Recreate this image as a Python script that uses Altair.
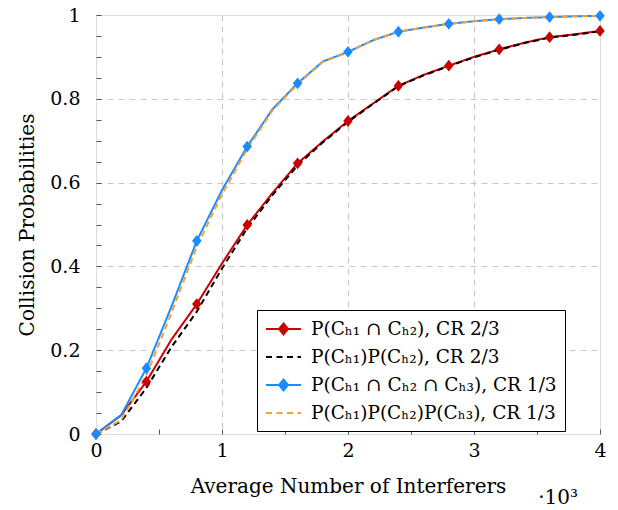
import altair as alt
import pandas as pd

# ---------------- data ----------------
x_k = [0.0, 0.2, 0.4, 0.6, 0.8, 1.0, 1.2, 1.4, 1.6, 1.8, 2.0,
       2.2, 2.4, 2.6, 2.8, 3.0, 3.2, 3.4, 3.6, 3.8, 4.0]
p12_joint = [0.0, 0.045, 0.125, 0.226, 0.310, 0.407, 0.499, 0.575, 0.646, 0.698, 0.747,
             0.789, 0.831, 0.857, 0.879, 0.900, 0.918, 0.934, 0.947, 0.954, 0.962]
p12_prod = [0.0, 0.030, 0.110, 0.208, 0.292, 0.395, 0.491, 0.570, 0.641, 0.696, 0.745,
            0.788, 0.830, 0.856, 0.878, 0.899, 0.917, 0.933, 0.946, 0.953, 0.961]
p123_joint = [0.0, 0.045, 0.157, 0.305, 0.461, 0.582, 0.686, 0.775, 0.837, 0.889, 0.912,
              0.940, 0.960, 0.970, 0.979, 0.985, 0.990, 0.993, 0.995, 0.997, 0.998]
p123_prod = [0.0, 0.033, 0.140, 0.290, 0.447, 0.572, 0.680, 0.772, 0.835, 0.888, 0.911,
             0.940, 0.960, 0.970, 0.979, 0.985, 0.990, 0.993, 0.995, 0.997, 0.998]

series_names = [
    "P(Cₕ₁ ∩ Cₕ₂), CR 2/3",
    "P(Cₕ₁)P(Cₕ₂), CR 2/3",
    "P(Cₕ₁ ∩ Cₕ₂ ∩ Cₕ₃), CR 1/3",
    "P(Cₕ₁)P(Cₕ₂)P(Cₕ₃), CR 1/3",
]
series_values = [p12_joint, p12_prod, p123_joint, p123_prod]
series_colors = ["#cc0000", "#000000", "#1a8cff", "#f5a033"]
series_dash = [[1, 0], [6, 4], [1, 0], [6, 4]]
series_has_marker = [True, False, True, False]

x_tick_vals = [i * 0.5 for i in range(9)]
y_tick_vals = [round(i * 0.05, 2) for i in range(21)]

rows = []
for name, vals, mk in zip(series_names, series_values, series_has_marker):
    for i, (xv, yv) in enumerate(zip(x_k, vals)):
        rows.append({"series": name, "x": xv, "y": yv,
                     "marker": bool(mk and i % 2 == 0)})
df = pd.DataFrame(rows)

FONT = "DejaVu Serif"

diamond = "M0,-1L0.8,0L0,1L-0.8,0Z"
leg_solid_diamond = "M-1,0L2.5,0M0.75,-0.55L1.2,0L0.75,0.55L0.3,0Z"
leg_dashed = "M-1,0L-0.4,0M0.05,0L0.65,0M1.1,0L1.7,0M2.15,0L2.5,0"
legend_shapes = [leg_solid_diamond, leg_dashed, leg_solid_diamond, leg_dashed]

x_enc = alt.X(
    "x:Q",
    scale=alt.Scale(domain=[0, 4], nice=False, zero=False),
    axis=alt.Axis(
        values=x_tick_vals,
        labelExpr="datum.value % 1 == 0 ? format(datum.value, 'd') : ''",
        labelFlush=False, labelOverlap=False,
        title="Average Number of Interferers",
        grid=True,
        gridOpacity={"condition": {"test": "datum.value % 1 == 0 && datum.value > 0 && datum.value < 4",
                                   "value": 1}, "value": 0},
        gridDash=[6, 5], gridColor="#c8c8c8", gridWidth=1.2,
        tickSize=5, offset=-5, domain=False, tickColor="#555555", tickWidth=1,
        labelPadding=7, labelFont=FONT, labelFontSize=19, labelColor="#000000",
        titleFont=FONT, titleFontSize=20, titleFontWeight="normal", titleColor="#000000",
        titlePadding=16,
    ),
)
y_enc = alt.Y(
    "y:Q",
    scale=alt.Scale(domain=[0, 1], nice=False),
    axis=alt.Axis(
        values=y_tick_vals,
        labelExpr="abs(datum.value*5 - round(datum.value*5)) < 1e-6 ? format(datum.value, '~g') : ''",
        labelFlush=False, labelOverlap=False,
        title="Collision Probabilities",
        grid=True,
        gridOpacity={"condition": {"test": "abs(datum.value*5 - round(datum.value*5)) < 1e-6 && datum.value > 0.01 && datum.value < 0.99",
                                   "value": 1}, "value": 0},
        gridDash=[6, 5], gridColor="#c8c8c8", gridWidth=1.2,
        tickSize=5, offset=-5, domain=False, tickColor="#555555", tickWidth=1,
        labelPadding=16, labelFont=FONT, labelFontSize=19, labelColor="#000000",
        titleFont=FONT, titleFontSize=20, titleFontWeight="normal", titleColor="#000000",
        titlePadding=12,
    ),
)

# plot scales (listed in reverse order so they stay separate from the legend scales)
color_scale = alt.Scale(domain=series_names[::-1], range=series_colors[::-1])
dash_scale = alt.Scale(domain=series_names[::-1], range=series_dash[::-1])

lines = alt.Chart(df).mark_line(strokeWidth=2).encode(
    x=x_enc, y=y_enc,
    color=alt.Color("series:N", scale=color_scale, legend=None),
    strokeDash=alt.StrokeDash("series:N", scale=dash_scale, legend=None),
    order=alt.Order("x:Q"),
)

points = alt.Chart(df).transform_filter("datum.marker").mark_point(
    shape=diamond, filled=True, size=140, opacity=1, strokeWidth=1
).encode(
    x=x_enc, y=y_enc,
    color=alt.Color("series:N", scale=color_scale, legend=None),
)

leg = alt.Legend(
    title=None, orient="none", legendX=161, legendY=295,
    symbolSize=400, symbolStrokeWidth=2, symbolOpacity=1,
    labelFont=FONT, labelFontSize=18.5, labelColor="#000000", labelOffset=24,
    labelLimit=400, rowPadding=7, padding=8,
    strokeColor="#000000", fillColor="#ffffff",
)
# legend-only layer: no rows reach the plot, the legend comes from the explicit scale domains
legend_layer = alt.Chart(df).transform_filter("datum.x < -1").mark_point(
    size=400, strokeWidth=2, filled=True
).encode(
    x=x_enc, y=y_enc,
    fill=alt.Fill("series:N", scale=alt.Scale(domain=series_names, range=series_colors), legend=leg),
    stroke=alt.Stroke("series:N", scale=alt.Scale(domain=series_names, range=series_colors), legend=leg),
    shape=alt.Shape("series:N", scale=alt.Scale(domain=series_names, range=legend_shapes), legend=leg),
)

chart = alt.layer(lines, points, legend_layer).properties(
    width=504, height=419,
    autosize=alt.AutoSizeParams(type="none"),
    padding={"left": 96, "top": 15, "right": 18, "bottom": 76},
    title=alt.TitleParams(text="·10³", orient="bottom", anchor="end", font=FONT,
                          fontSize=20, fontWeight="normal", color="#000000",
                          offset=-8, dx=-28),
).configure_view(stroke="#000000", strokeWidth=1.6).configure_legend(
    strokeWidth=2
).configure(background="#ffffff")

chart.save("out.html", embed_options={"renderer": "svg", "actions": False})
